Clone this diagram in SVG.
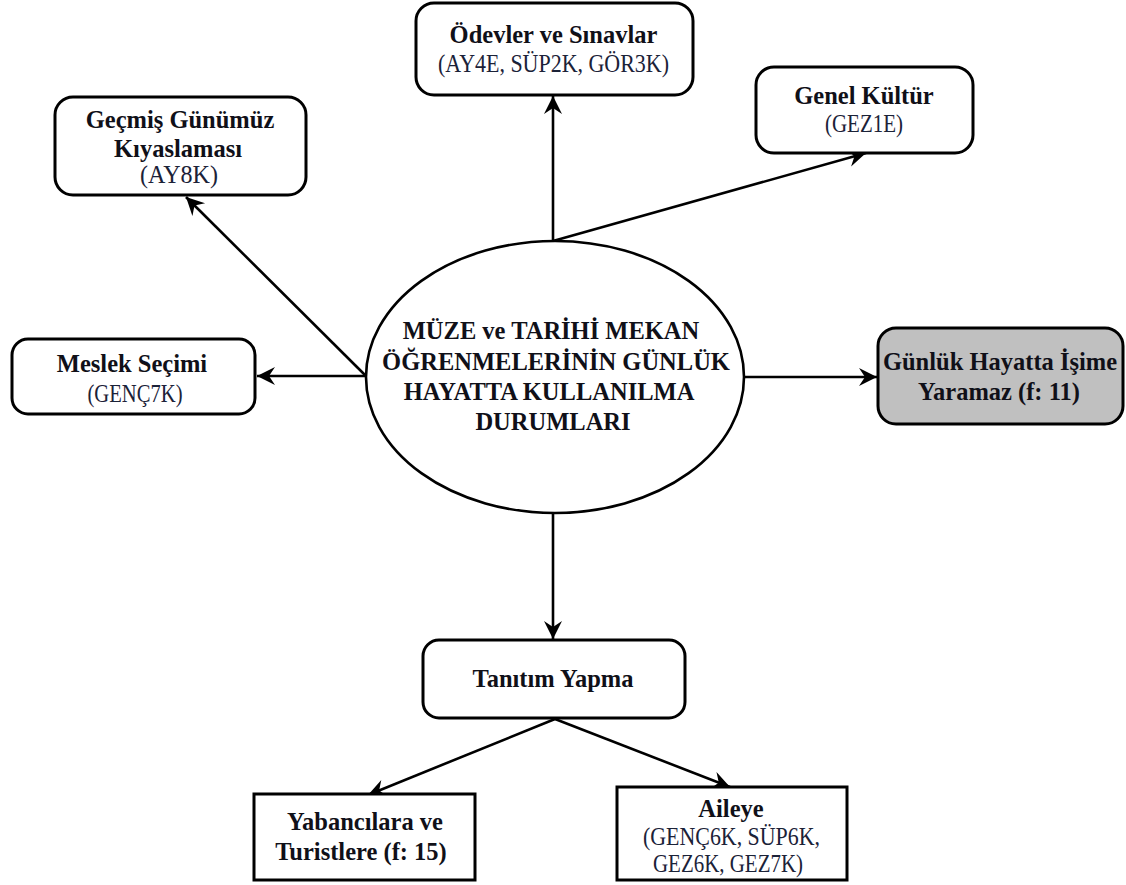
<svg xmlns="http://www.w3.org/2000/svg" width="1126" height="885" viewBox="0 0 1126 885">
<style>
.box{fill:#fff;stroke:#000;stroke-width:3}
.gray{fill:#c0c0c0}
.t{font-family:"Liberation Serif","Times New Roman",serif;font-weight:bold;font-size:24.5px;fill:#101018;text-anchor:middle}
.c{font-family:"Liberation Serif","Times New Roman",serif;font-size:26px;fill:#1b2238;text-anchor:middle}
.ln{stroke:#000;stroke-width:2.6;fill:none;marker-end:url(#ah)}
</style>
<defs>
<marker id="ah" markerUnits="userSpaceOnUse" markerWidth="20" markerHeight="20" refX="18" refY="9" orient="auto" viewBox="0 0 20 20">
<path d="M0,0 L18,9 L0,18 L6,9 Z" fill="#000"/>
</marker>
</defs>
<g id="connectors">
<line class="ln" x1="553" y1="241" x2="553" y2="96"/>
<line class="ln" x1="553" y1="241" x2="866" y2="153"/>
<line class="ln" x1="366" y1="376" x2="186" y2="197"/>
<line class="ln" x1="366" y1="376" x2="257" y2="376"/>
<line class="ln" x1="744" y1="377" x2="877" y2="377"/>
<line class="ln" x1="553" y1="513" x2="553" y2="639"/>
<line class="ln" x1="555" y1="719" x2="368" y2="795"/>
<line class="ln" x1="555" y1="719" x2="730" y2="787"/>
</g>
<g id="center">
<ellipse cx="555" cy="377" rx="189" ry="136" fill="#fff" stroke="#000" stroke-width="2.6"/>
<text class="t" x="551" y="339">MÜZE ve TARİHİ MEKAN</text>
<text class="t" x="556" y="370">ÖĞRENMELERİNİN GÜNLÜK</text>
<text class="t" x="549" y="400">HAYATTA KULLANILMA</text>
<text class="t" x="553" y="430">DURUMLARI</text>
</g>
<g id="odevler">
<rect class="box" x="416" y="3" width="277" height="92" rx="18"/>
<text class="t" x="553.5" y="43">Ödevler ve Sınavlar</text>
<text class="c" x="553.5" y="72" textLength="231" lengthAdjust="spacingAndGlyphs">(AY4E, SÜP2K, GÖR3K)</text>
</g>
<g id="genel">
<rect class="box" x="756" y="67" width="217" height="86" rx="18"/>
<text class="t" x="864" y="104">Genel Kültür</text>
<text class="c" x="864" y="132" textLength="78" lengthAdjust="spacingAndGlyphs">(GEZ1E)</text>
</g>
<g id="gecmis">
<rect class="box" x="55" y="97" width="251" height="98" rx="18"/>
<text class="t" x="180" y="128">Geçmiş Günümüz</text>
<text class="t" x="178" y="157">Kıyaslaması</text>
<text class="c" x="179" y="183" textLength="78" lengthAdjust="spacingAndGlyphs">(AY8K)</text>
</g>
<g id="meslek">
<rect class="box" x="12" y="339" width="243" height="75" rx="16"/>
<text class="t" x="132" y="372">Meslek Seçimi</text>
<text class="c" x="135" y="402" textLength="95" lengthAdjust="spacingAndGlyphs">(GENÇ7K)</text>
</g>
<g id="gunluk">
<rect class="box gray" x="878" y="328" width="245" height="96" rx="18"/>
<text class="t" x="1000" y="370">Günlük Hayatta İşime</text>
<text class="t" x="999" y="400">Yaramaz (f: 11)</text>
</g>
<g id="tanitim">
<rect class="box" x="423" y="640" width="262" height="78" rx="16"/>
<text class="t" x="553" y="687">Tanıtım Yapma</text>
</g>
<g id="yabanci">
<rect class="box" x="254" y="794" width="221" height="86"/>
<text class="t" x="365" y="830">Yabancılara ve</text>
<text class="t" x="361" y="860">Turistlere (f: 15)</text>
</g>
<g id="aileye">
<rect class="box" x="617" y="787" width="230" height="93"/>
<text class="t" x="731" y="817">Aileye</text>
<text class="c" x="731.5" y="845" textLength="177" lengthAdjust="spacingAndGlyphs">(GENÇ6K, SÜP6K,</text>
<text class="c" x="728" y="872" textLength="150" lengthAdjust="spacingAndGlyphs">GEZ6K, GEZ7K)</text>
</g>
</svg>
